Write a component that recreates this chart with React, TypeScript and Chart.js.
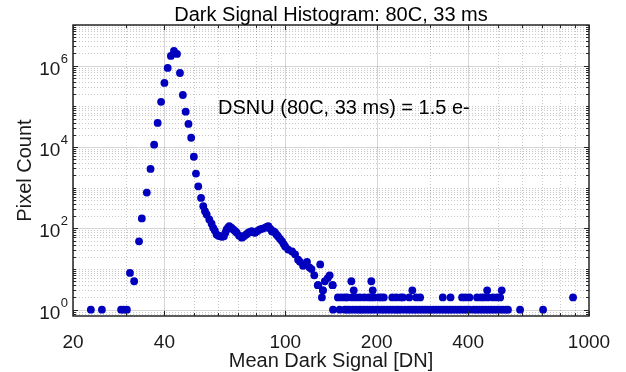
import React, { useEffect, useRef } from 'react';
import { Chart, registerables } from 'chart.js';

Chart.register(...registerables);

const chartTitle = 'Dark Signal Histogram: 80C, 33 ms';
const xAxisTitle = 'Mean Dark Signal [DN]';
const yAxisTitle = 'Pixel Count';
const annotationText = 'DSNU (80C, 33 ms) = 1.5 e-';

const xTickValues = [20, 40, 100, 200, 400, 1000];
const xTickLabels = ['20', '40', '100', '200', '400', '1000'];
const xMinorValues = [30, 50, 60, 70, 80, 90, 300, 500, 600, 700, 800, 900];
const yTickExponents = [0, 2, 4, 6];
const xRange = [20, 1000];
const yRange = [0.74, 1e7];

// main peak
const peakDN = [22.9, 24.9, 28.8, 29.4, 30.1, 30.8, 31.8, 33.0, 33.7, 35.0, 36, 37, 38, 39, 40, 41, 42, 43, 44, 45, 46, 47, 48, 49, 50, 50.8, 51.7, 52.8, 53.7, 54.4, 55.1];
const peakCount = [1, 1, 1, 1, 1, 8, 5, 48, 175, 760, 2900, 11400, 39000, 129000, 377000, 880000, 1740000, 2300000, 1950000, 660000, 190000, 74000, 37000, 16900, 5760, 2220, 1080, 560, 350, 264, 219];

// shoulder
const shoulderDN = [56.2, 57.2, 57.9, 58.6, 59.4, 60.2, 61.0, 61.9, 62.8, 63.5, 64.1, 64.8, 65.4, 66.4, 67.4, 68.3, 69.2, 70.5, 71.9, 72.7, 73.6, 74.6, 75.6, 76.5, 77.5, 78.5, 79.5, 81.0, 82.5, 84.0, 85.7, 86.8, 87.9, 89.2, 90.4, 91.3, 92.5, 93.6, 94.7, 96.1, 97.6, 98.8, 99.9];
const shoulderCount = [165, 130, 103, 88, 71, 66, 64, 62, 64, 78, 94, 104, 113, 104, 94, 86, 78, 66, 59, 62, 67, 72, 78, 82, 85, 80, 78, 86, 94, 98, 103, 108, 113, 98, 84, 85, 79, 70, 63, 55, 48, 41, 36];

// falling edge
const tailDN = [102.2, 105.3, 107.7, 110.2, 111.8, 114.4, 117.9, 120, 122, 124.6, 128.2, 130.3, 133, 135, 138, 140, 143.3, 165, 192, 128, 143];
const tailCount = [30, 27, 23, 17, 15, 12, 15, 11, 10, 7, 4, 13, 3, 5, 6, 7, 4, 5, 5, 4, 4];

// sparse bins
const singleCountDN = [143.6, 151, 157, 160, 163, 167, 171, 175, 178, 182, 186, 190, 194, 199, 203, 208, 212, 217, 222, 227, 232, 236, 241, 248, 254, 259, 265, 270, 276, 282, 288, 294, 300, 307, 313, 320, 327, 334, 341, 348, 355, 363, 371, 379, 388, 396, 404, 417, 426, 436, 446, 456, 466, 476, 487, 498, 509, 520, 532, 541, 593, 706];
const doubleCountDN = [132, 149, 153, 157, 160, 166, 171, 176, 182, 188, 192, 196, 203, 207, 211, 225, 232, 240, 244, 256, 270, 278, 330, 350, 382, 392, 404, 428, 441, 451, 465, 483, 498, 510, 886];
const tripleCountDN = [133, 168, 194, 262, 462, 516];

const FONT = '"Liberation Sans", Arial, Helvetica, sans-serif';
const AXIS_COLOR = '#262626';

function buildPoints() {
  const pts: { x: number; y: number }[] = [];
  peakDN.forEach((v, i) => pts.push({ x: v, y: peakCount[i] }));
  shoulderDN.forEach((v, i) => pts.push({ x: v, y: shoulderCount[i] }));
  tailDN.forEach((v, i) => pts.push({ x: v, y: tailCount[i] }));
  singleCountDN.forEach((v) => pts.push({ x: v, y: 1 }));
  doubleCountDN.forEach((v) => pts.push({ x: v, y: 2 }));
  tripleCountDN.forEach((v) => pts.push({ x: v, y: 3 }));
  return pts;
}

function yGridValues() {
  const out: { v: number; major: boolean }[] = [];
  for (let e = -1; e <= 7; e++) {
    for (let m = 1; m <= 9; m++) {
      const v = m * Math.pow(10, e);
      if (v < yRange[0] || v > yRange[1]) continue;
      out.push({ v, major: m === 1 && yTickExponents.includes(e) });
    }
  }
  return out;
}

const matlabAxes = {
  id: 'matlabAxes',
  beforeDatasetsDraw(chart: any) {
    const { ctx, chartArea: a, scales } = chart;
    const xs = scales.x;
    const ys = scales.y;
    ctx.save();
    ctx.beginPath();
    ctx.rect(a.left, a.top, a.right - a.left, a.bottom - a.top);
    ctx.clip();
    ctx.lineWidth = 1;
    // minor grid (dotted)
    ctx.strokeStyle = 'rgba(0,0,0,0.22)';
    ctx.setLineDash([1, 2]);
    ctx.beginPath();
    xMinorValues.forEach((v) => {
      const p = Math.round(xs.getPixelForValue(v)) + 0.5;
      ctx.moveTo(p, a.top);
      ctx.lineTo(p, a.bottom);
    });
    yGridValues().forEach((g) => {
      if (g.major) return;
      const p = Math.round(ys.getPixelForValue(g.v)) + 0.5;
      ctx.moveTo(a.left, p);
      ctx.lineTo(a.right, p);
    });
    ctx.stroke();
    // major grid (solid)
    ctx.setLineDash([]);
    ctx.strokeStyle = 'rgba(0,0,0,0.16)';
    ctx.beginPath();
    xTickValues.forEach((v) => {
      const p = Math.round(xs.getPixelForValue(v)) + 0.5;
      ctx.moveTo(p, a.top);
      ctx.lineTo(p, a.bottom);
    });
    yGridValues().forEach((g) => {
      if (!g.major) return;
      const p = Math.round(ys.getPixelForValue(g.v)) + 0.5;
      ctx.moveTo(a.left, p);
      ctx.lineTo(a.right, p);
    });
    ctx.stroke();
    ctx.restore();
  },
  afterDatasetsDraw(chart: any) {
    const { ctx, chartArea: a, scales } = chart;
    const xs = scales.x;
    const ys = scales.y;
    ctx.save();
    ctx.strokeStyle = AXIS_COLOR;
    ctx.fillStyle = AXIS_COLOR;
    // ticks
    ctx.lineWidth = 1;
    ctx.beginPath();
    const xt = (v: number, len: number) => {
      const p = Math.round(xs.getPixelForValue(v)) + 0.5;
      ctx.moveTo(p, a.bottom);
      ctx.lineTo(p, a.bottom - len);
      ctx.moveTo(p, a.top);
      ctx.lineTo(p, a.top + len);
    };
    xTickValues.forEach((v) => xt(v, 5));
    xMinorValues.forEach((v) => xt(v, 3));
    yGridValues().forEach((g) => {
      const p = Math.round(ys.getPixelForValue(g.v)) + 0.5;
      const len = g.major ? 5 : 3;
      ctx.moveTo(a.left, p);
      ctx.lineTo(a.left + len, p);
      ctx.moveTo(a.right, p);
      ctx.lineTo(a.right - len, p);
    });
    ctx.stroke();
    // box
    ctx.lineWidth = 1.5;
    ctx.strokeRect(a.left, a.top, a.right - a.left, a.bottom - a.top);

    ctx.fillStyle = '#1a1a1a';
    // x tick labels
    ctx.font = `19px ${FONT}`;
    ctx.textAlign = 'center';
    ctx.textBaseline = 'alphabetic';
    xTickValues.forEach((v, i) => {
      ctx.fillText(xTickLabels[i], xs.getPixelForValue(v), 348);
    });
    // y tick labels with superscript
    yTickExponents.forEach((e) => {
      const p = ys.getPixelForValue(Math.pow(10, e));
      ctx.textAlign = 'right';
      ctx.font = `13px ${FONT}`;
      const sup = String(e);
      const supRight = a.left - 5;
      ctx.fillText(sup, supRight, p - 3);
      const supW = ctx.measureText(sup).width;
      ctx.font = `19px ${FONT}`;
      ctx.fillText('10', supRight - supW - 0.5, p + 9);
    });
    // axis titles
    ctx.font = `20px ${FONT}`;
    ctx.textAlign = 'center';
    ctx.fillText(xAxisTitle, (a.left + a.right) / 2, 367);
    ctx.save();
    ctx.translate(31, (a.top + a.bottom) / 2);
    ctx.rotate(-Math.PI / 2);
    ctx.fillText(yAxisTitle, 0, 0);
    ctx.restore();
    // title
    ctx.fillStyle = '#000000';
    ctx.fillText(chartTitle, (a.left + a.right) / 2, 21);
    // annotation
    ctx.textAlign = 'left';
    ctx.fillText(annotationText, 218, 114);
    ctx.restore();
  },
};

export default function App() {
  const canvasRef = useRef<HTMLCanvasElement | null>(null);
  useEffect(() => {
    document.body.style.margin = '0';
    const canvas = canvasRef.current;
    if (!canvas) return;
    const chart = new Chart(canvas, {
      type: 'scatter',
      data: {
        datasets: [
          {
            data: buildPoints(),
            backgroundColor: '#0000BE',
            borderWidth: 0,
            pointRadius: 3.9,
            pointHoverRadius: 3.9,
            clip: false as any,
          },
        ],
      },
      options: {
        responsive: false,
        animation: false,
        devicePixelRatio: 1,
        layout: { padding: { left: 73, right: 37, top: 25, bottom: 56 } },
        plugins: { legend: { display: false }, tooltip: { enabled: false }, title: { display: false } },
        scales: {
          x: { type: 'logarithmic', min: xRange[0], max: xRange[1], display: false },
          y: { type: 'logarithmic', min: yRange[0], max: yRange[1], display: false },
        },
      },
      plugins: [matlabAxes],
    });
    return () => chart.destroy();
  }, []);
  return (
    <div style={{ width: 626, height: 372, background: '#ffffff' }}>
      <canvas ref={canvasRef} width={626} height={372} style={{ display: 'block' }} />
    </div>
  );
}
